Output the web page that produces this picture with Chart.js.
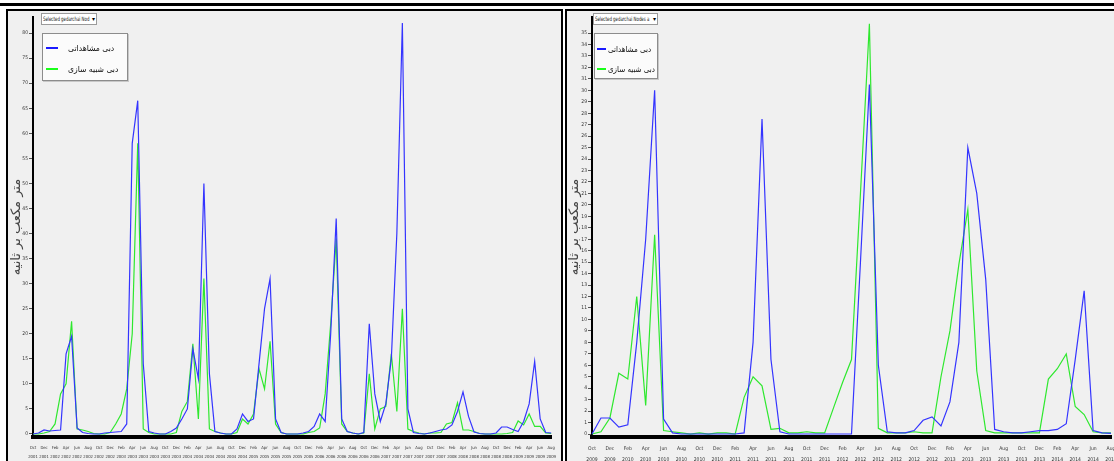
<!DOCTYPE html>
<html>
<head>
<meta charset="utf-8">
<script src="https://cdn.jsdelivr.net/npm/chart.js@4"></script>
<style>
  html, body { margin: 0; padding: 0; width: 1114px; height: 461px; overflow: hidden; background: #fff; }
  .topline { position: absolute; left: 0; top: 3px; width: 1114px; height: 3px; background: #000; }
  .panel { position: absolute; top: 9px; height: 460px; background: #f0f0f0; box-sizing: border-box;
           border-left: 2px solid #000; border-top: 2px solid #000; }
  #panelL { left: 6px; width: 557px; border-right: 2px solid #000; }
  #panelR { left: 565px; width: 600px; }
  canvas { position: absolute; }
  .dd { position: absolute; top: 13px; height: 12px; box-sizing: border-box; background: #fff;
        border: 1px solid #9a9a9a; overflow: hidden; }
  .dd span { position: absolute; left: 1px; top: 0; font: 6px 'DejaVu Sans Condensed', 'DejaVu Sans', sans-serif;
             line-height: 10px; white-space: nowrap; color: #111; transform: scaleX(0.72); transform-origin: 0 0; }
  .dd b { position: absolute; right: 1px; top: 0; font: 6px 'DejaVu Sans', sans-serif; line-height: 10px; }
  .lg { position: absolute; box-sizing: border-box; background: #fbfbfb; border: 1px solid #8c8c8c;
        box-shadow: 1px 1px 0 #c8c8c8; }
  .sw { position: absolute; height: 2px; }
  .tx { position: absolute; font: 8.5px 'DejaVu Sans', sans-serif; color: #111; white-space: nowrap;
        direction: rtl; line-height: 12px; transform-origin: 0 50%; }
  .lgL .tx { transform: scaleX(0.9); }
  .lgR .tx { transform: scaleX(0.84); }
</style>
</head>
<body>
<div class="topline"></div>
<div class="panel" id="panelL"></div>
<div class="panel" id="panelR"></div>
<canvas id="chartL" width="553" height="449" style="left:9px;top:12px;width:553px;height:449px"></canvas>
<canvas id="chartR" width="560" height="449" style="left:567px;top:12px;width:560px;height:449px"></canvas>

<div class="dd" style="left:41px;width:56px"><span>Selected gedarchai Nod</span><b>&#9662;</b></div>
<div class="dd" style="left:593px;width:65px"><span>Selected gedarchai Nodes a</span><b>&#9662;</b></div>

<div class="lg lgL" style="left:42px;top:33px;width:86px;height:48px">
  <div class="sw" style="left:3px;top:13px;width:12px;background:#1a1aff"></div>
  <div class="tx" style="left:25px;top:8px">دبی مشاهداتی</div>
  <div class="sw" style="left:3px;top:34px;width:12px;background:#1aff1a"></div>
  <div class="tx" style="left:25px;top:29px">دبی شبیه سازی</div>
</div>
<div class="lg lgR" style="left:594px;top:33px;width:64px;height:46px">
  <div class="sw" style="left:2px;top:14px;width:9px;background:#1a1aff"></div>
  <div class="tx" style="left:13px;top:9px">دبی مشاهداتی</div>
  <div class="sw" style="left:2px;top:34px;width:9px;background:#1aff1a"></div>
  <div class="tx" style="left:13px;top:29px">دبی شبیه سازی</div>
</div>

<script>
// Monthly discharge (m³/s) at the selected gedarchai node, Oct 2001 – Aug 2009
const leftObserved = [
  0, 0.2, 0.8, 0.6, 0.7, 0.8, 16, 19.5, 1.2, 0.3, 0.1, 0,
  0, 0.2, 0.3, 0.4, 0.5, 2, 58, 66.5, 14, 0.5, 0.2, 0,
  0, 0.5, 1.2, 3, 5, 17, 11, 50, 12, 0.5, 0.2, 0,
  0, 1, 4, 2.5, 3, 14, 25, 31, 3, 0.3, 0, 0,
  0, 0.2, 0.5, 1.5, 4, 2.5, 20, 43, 3, 0.5, 0.2, 0,
  0.3, 22, 8, 2.5, 6, 15, 40, 82, 5, 0.3, 0.1, 0,
  0.2, 0.5, 0.8, 1, 1.8, 4.5, 8.4, 3.5, 0.4, 0.1, 0, 0,
  0.2, 1.4, 1.4, 0.9, 0.5, 2.5, 6, 14.5, 3, 0.3, 0.2
];
const leftSimulated = [
  0, 0, 0.2, 0.5, 2, 8, 10, 22.5, 1, 0.8, 0.5, 0.1,
  0, 0, 0.3, 2, 4, 9, 20, 58, 1, 0.3, 0, 0,
  0, 0, 0.3, 4.5, 6.5, 18, 3, 31, 1, 0.5, 0.2, 0,
  0, 0.3, 3, 2, 4, 13, 9, 18.5, 2, 0.3, 0, 0,
  0, 0, 0.3, 0.5, 1.2, 8, 22, 39, 2, 0.5, 0.2, 0,
  0.2, 12, 1, 5, 5.5, 16, 4.5, 25, 1, 0.5, 0.2, 0,
  0.2, 0.2, 0.3, 2, 2.3, 6.2, 0.8, 0.8, 0.5, 0.1, 0, 0,
  0, 0, 0.1, 0.3, 2.6, 1.8, 4, 1.5, 1.5, 0.2, 0.1
];

// Oct 2009 – Aug 2014
const rightObserved = [
  0, 1.4, 1.4, 0.6, 0.8, 8, 17, 30, 1.3, 0.1, 0, 0,
  0, 0, 0, 0, 0, 0.1, 8, 27.5, 6.5, 0.2, 0, 0,
  0, 0, 0, 0, 0, 0, 15, 30.5, 6, 0.2, 0.1, 0.1,
  0.3, 1.2, 1.5, 0.7, 2.8, 8, 25, 21, 13.5, 0.4, 0.2, 0.1,
  0.1, 0.2, 0.3, 0.3, 0.4, 0.9, 6.5, 12.5, 0.3, 0.1, 0.05
];
const rightSimulated = [
  0, 0.2, 1.4, 5.3, 4.8, 12, 2.5, 17.4, 0.3, 0.2, 0.1, 0,
  0.1, 0, 0.1, 0.1, 0, 3.2, 5, 4.2, 0.4, 0.5, 0.1, 0.1,
  0.2, 0.1, 0.1, 2.3, 4.5, 6.5, 21, 35.8, 0.5, 0.1, 0.1, 0.1,
  0.2, 0.1, 0.1, 5, 9, 14.8, 19.6, 5.5, 0.3, 0.1, 0.1, 0.1,
  0.1, 0.1, 0.1, 4.8, 5.7, 7, 2.4, 1.7, 0.2, 0.1, 0.1
];

const leftTicks = [0, 5, 10, 15, 20, 25, 30, 35, 40, 45, 50, 55, 60, 65, 70, 75, 80];
const rightTicks = [0,1,2,3,4,5,6,7,8,9,10,11,12,13,14,15,16,17,18,19,20,21,22,23,24,25,26,27,28,29,30,31,32,33,34,35];

const monthNames = ['Jan','Feb','Mar','Apr','May','Jun','Jul','Aug','Sep','Oct','Nov','Dec'];
const seriesNames = ['دبی مشاهداتی', 'دبی شبیه سازی'];
const axisTitle = 'متر مکعب بر ثانیه';

// month/year category labels, starting from a given month
function monthLabels(startYear, startMonth, count) {
  const out = [];
  for (let k = 0; k < count; k++) {
    const m = (startMonth + k) % 12;
    const y = startYear + Math.floor((startMonth + k) / 12);
    out.push([monthNames[m], String(y)]);
  }
  return out;
}
const leftLabels = monthLabels(2001, 9, leftObserved.length);
const rightLabels = monthLabels(2009, 9, rightObserved.length);

const tickFamily = "'DejaVu Sans Condensed', 'DejaVu Sans', sans-serif";

function buildChart(id, labels, obs, sim, ticks, yMin, yMax, yWidth, padRight, xFontSize) {
  return new Chart(document.getElementById(id), {
    type: 'line',
    data: {
      labels: labels,
      datasets: [
        { label: seriesNames[0], data: obs, borderColor: '#3434ff', borderWidth: 1.2,
          pointRadius: 0, tension: 0, fill: false },
        { label: seriesNames[1], data: sim, borderColor: '#2ee82e', borderWidth: 1.2,
          pointRadius: 0, tension: 0, fill: false }
      ]
    },
    options: {
      responsive: false,
      animation: false,
      events: [],
      layout: { padding: { top: 5, right: padRight, left: 0, bottom: 0 } },
      plugins: { legend: { display: false }, tooltip: { enabled: false } },
      scales: {
        x: {
          type: 'category',
          offset: false,
          grid: { display: true, drawOnChartArea: false, drawTicks: false },
          border: { display: true, color: '#000', width: 4 },
          ticks: {
            autoSkip: false, maxRotation: 0, minRotation: 0, padding: 6,
            color: '#333', font: { family: tickFamily, size: xFontSize, lineHeight: 2.2 },
            callback: function (v, i) { return i % 2 === 0 ? this.getLabelForValue(v) : ''; }
          },
          afterFit: s => { s.height = 24; }
        },
        y: {
          min: yMin, max: yMax,
          grid: { display: true, drawOnChartArea: false, drawTicks: true, tickLength: 4, color: '#555' },
          border: { display: true, color: '#000', width: 2 },
          ticks: { padding: 1, color: '#333', font: { family: tickFamily, size: 5 } },
          afterBuildTicks: s => { s.ticks = ticks.map(v => ({ value: v })); },
          afterFit: s => { s.width = yWidth; },
          title: {
            display: true, text: axisTitle, color: '#444', padding: { top: 0, bottom: 0 },
            font: { family: "'DejaVu Sans', sans-serif", size: 13 }
          }
        }
      }
    }
  });
}

buildChart('chartL', leftLabels, leftObserved, leftSimulated, leftTicks, -0.6, 83.2, 24, 6, 4.2);
buildChart('chartR', rightLabels, rightObserved, rightSimulated, rightTicks, -0.26, 36.4, 25, 16, 5);
</script>
</body>
</html>
